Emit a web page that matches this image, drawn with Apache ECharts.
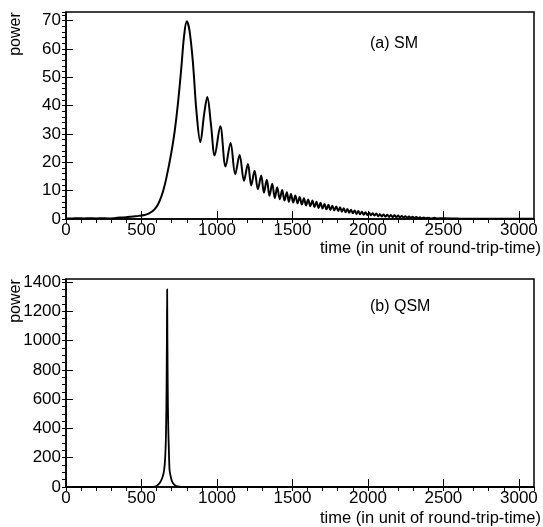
<!DOCTYPE html>
<html><head><meta charset="utf-8">
<script src="https://cdn.jsdelivr.net/npm/echarts@6/dist/echarts.min.js"></script>
<style>html,body{margin:0;padding:0;background:#fff}#c{width:543px;height:527px}</style>
</head><body><div id="c"></div>
<script>
// (a) SM : time (round-trip units) and power
const smTime = [0,40,80,120,160,200,240,280,320,360,400,440,480,520,550,577,600,621,643,665,698,720,742,765,782,800,818,841,864,890,915,936,960,985,1022,1057,1090,1121,1150,1179,1205,1227,1249,1271,1293,1311,1330,1348,1366,1383,1399,1416,1432,1447,1463,1476,
 1490,1505,1519,1534,1548,1562,1576,1590,1604,1618,1632,1646,1659,1673,1686,1699,1712,1725,1738,1751,1764,1777,1790,1803,1815,1828,1840,1852,1864,1876,1888,1900,1912,1924,1936,1948,1960,1972,1984,1996,2008,2020,2032,2044,2056,2068,2080,2092,2104,2116,2128,2140,2152,2164,2176,2188,2200,2212,2224,2236,2248,2260,2272,2284,2296,2308,2320,2332,2344,2356,2370,2384,2400,2420,2440,2460,2500,2600,2800,3000,3100];
const smPower = [0.3,0.2,0.3,0.2,0.3,0.2,0.3,0.2,0.3,0.5,0.6,0.9,1.1,1.4,2.0,2.9,4.3,6.5,9.8,14.5,23.5,31,41,54,64.5,69.7,66.5,55,38,27.1,37,43,33.5,22.4,32.7,18.5,26.8,15.8,22.6,13.5,19.4,11.8,17.0,10.5,15.3,9.3,13.8,8.2,12.4,7.4,11.2,7.0,10.2,6.5,9.4,6.1,
 8.8,5.8,8.3,5.5,7.8,5.1,7.3,4.8,6.9,4.5,6.5,4.2,6.1,3.9,5.7,3.7,5.3,3.4,5.0,3.2,4.7,3.0,4.4,2.8,4.1,2.6,3.8,2.4,3.5,2.2,3.3,2.0,3.0,1.8,2.8,1.7,2.6,1.5,2.4,1.4,2.2,1.3,2.0,1.2,1.9,1.0,1.7,0.9,1.6,0.8,1.5,0.7,1.4,0.6,1.3,0.6,1.2,0.5,1.1,0.5,1.0,0.4,0.9,0.4,0.8,0.3,0.7,0.3,0.6,0.3,0.5,0.25,0.45,0.2,0.4,0.2,0.25,0.15,0.1,0.05,0.05];

// (b) QSM
const qsmTime = [0,560,580,600,623,640,650,657,662,665,667,668.5,670,671.5,673,675,678,682,686,695,703,715,730,750,780,3100];
const qsmPower = [0,0,1,6,30,70,116,200,350,550,800,1050,1350,1050,800,560,380,230,116,65,36,18,7,2,0,0];

const xAxisName = 'time (in unit of round-trip-time)';
const yAxisName = 'power';
const panelLabels = ['(a) SM', '(b) QSM'];
const xRange = [0, 3100];
const yRangeSM = [0, 73];
const yRangeQSM = [0, 1420];

const FONT = '"Liberation Sans", Arial, Helvetica, sans-serif';
const pair = (xs, ys) => xs.map((x, i) => [x, ys[i]]);
const plain = v => String(v);

function xMajor(gi) {
  return { type:'value', gridIndex:gi, min:xRange[0], max:xRange[1], interval:500,
    axisLine:{show:true, onZero:false, lineStyle:{color:'#000', width:1.5}},
    axisTick:{show:true, inside:true, length:8, lineStyle:{color:'#000', width:1}},
    axisLabel:{color:'#000', fontSize:17, fontFamily:FONT, margin:3, showMaxLabel:false, formatter:plain},
    splitLine:{show:false} };
}
function xMinor(gi) {
  return { type:'value', gridIndex:gi, min:xRange[0], max:xRange[1], interval:100,
    axisLine:{show:false}, axisLabel:{show:false}, splitLine:{show:false},
    axisTick:{show:true, inside:true, length:4, lineStyle:{color:'#000', width:1}} };
}
function yMajor(gi, r, iv) {
  return { type:'value', gridIndex:gi, min:r[0], max:r[1], interval:iv,
    axisLine:{show:true, onZero:false, lineStyle:{color:'#000', width:1.5}},
    axisTick:{show:true, inside:true, length:7, lineStyle:{color:'#000', width:1}},
    axisLabel:{color:'#000', fontSize:17, fontFamily:FONT, margin:5, showMaxLabel:false, formatter:plain},
    splitLine:{show:false} };
}
function yMinor(gi, r, iv) {
  return { type:'value', gridIndex:gi, min:r[0], max:r[1], interval:iv,
    axisLine:{show:false}, axisLabel:{show:false}, splitLine:{show:false},
    axisTick:{show:true, inside:true, length:4, lineStyle:{color:'#000', width:1}} };
}

const chart = echarts.init(document.getElementById('c'), null, {renderer:'canvas'});
chart.setOption({
  animation:false,
  backgroundColor:'#fff',
  textStyle:{fontFamily:FONT},
  grid:[
    {left:66, top:12, width:468, height:207, show:true, borderColor:'#000', borderWidth:1.5, backgroundColor:'#fff'},
    {left:66, top:279, width:468, height:208, show:true, borderColor:'#000', borderWidth:1.5, backgroundColor:'#fff'}
  ],
  xAxis:[xMajor(0), xMinor(0), xMajor(1), xMinor(1)],
  yAxis:[yMajor(0, yRangeSM, 10), yMinor(0, yRangeSM, 2), yMajor(1, yRangeQSM, 200), yMinor(1, yRangeQSM, 50)],
  series:[
    {type:'line', xAxisIndex:0, yAxisIndex:0, data:pair(smTime, smPower), showSymbol:false, smooth:0.35,
     lineStyle:{color:'#000', width:2}},
    {type:'line', xAxisIndex:2, yAxisIndex:2, data:pair(qsmTime, qsmPower), showSymbol:false, smooth:0.2,
     lineStyle:{color:'#000', width:1.8}}
  ],
  graphic:[
    {type:'text', x:16, y:34, rotation:Math.PI/2, style:{text:yAxisName, font:'16px '+FONT, fill:'#000', textAlign:'center', textVerticalAlign:'middle'}},
    {type:'text', x:16, y:301, rotation:Math.PI/2, style:{text:yAxisName, font:'16px '+FONT, fill:'#000', textAlign:'center', textVerticalAlign:'middle'}},
    {type:'text', x:541, y:248, style:{text:xAxisName, font:'16.5px '+FONT, fill:'#000', textAlign:'right', textVerticalAlign:'middle'}},
    {type:'text', x:541, y:518, style:{text:xAxisName, font:'16.5px '+FONT, fill:'#000', textAlign:'right', textVerticalAlign:'middle'}},
    {type:'text', x:370, y:44, style:{text:panelLabels[0], font:'16px '+FONT, fill:'#000', textAlign:'left', textVerticalAlign:'middle'}},
    {type:'text', x:370, y:307, style:{text:panelLabels[1], font:'16px '+FONT, fill:'#000', textAlign:'left', textVerticalAlign:'middle'}}
  ]
});
</script>
</body></html>
